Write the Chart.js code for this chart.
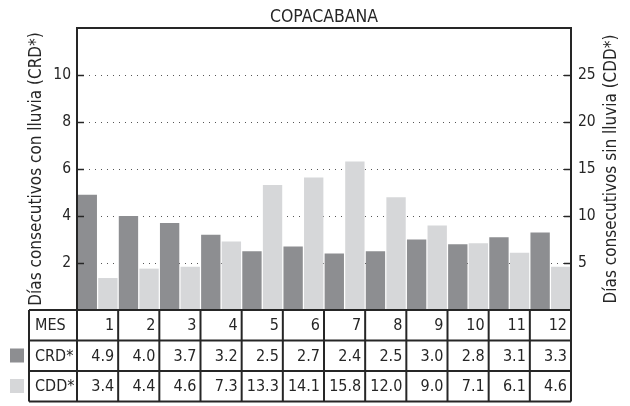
<!DOCTYPE html>
<html>
<head>
<meta charset="utf-8">
<script src="https://cdn.jsdelivr.net/npm/chart.js@4.4.1/dist/chart.umd.min.js"></script>
<style>
  body { margin: 0; background: #fff; }
  canvas { display: block; }
</style>
</head>
<body>
<canvas id="myChart" width="630" height="406"></canvas>
<script>
// data
const months = ['1', '2', '3', '4', '5', '6', '7', '8', '9', '10', '11', '12'];
const crd = [4.9, 4.0, 3.7, 3.2, 2.5, 2.7, 2.4, 2.5, 3.0, 2.8, 3.1, 3.3];
const cdd = [3.4, 4.4, 4.6, 7.3, 13.3, 14.1, 15.8, 12.0, 9.0, 7.1, 6.1, 4.6];
const rowLabels = ['MES', 'CRD*', 'CDD*'];

const darkGray = '#8d8e91';
const lightGray = '#d6d7d9';
const ink = '#262626';
const font = '"DejaVu Sans Condensed", "DejaVu Sans", sans-serif';

// frame, tick marks, right title and data table
const tablePlugin = {
    id: 'tablePlugin',
    afterDraw(chart) {
        const ctx = chart.ctx;
        const area = chart.chartArea;
        const x = chart.scales.x;
        const y = chart.scales.y;
        const y1 = chart.scales.y1;
        ctx.save();

        // frame around the plot
        ctx.strokeStyle = ink;
        ctx.lineWidth = 2;
        ctx.strokeRect(area.left, area.top, area.right - area.left, area.bottom - area.top);

        // small inward tick marks
        ctx.lineWidth = 1.5;
        [2, 4, 6, 8, 10].forEach(v => {
            const py = Math.round(y.getPixelForValue(v)) + 0.5;
            ctx.beginPath();
            ctx.moveTo(area.left, py);
            ctx.lineTo(area.left + 7, py);
            ctx.stroke();
        });
        [5, 10, 15, 20, 25].forEach(v => {
            const py = Math.round(y1.getPixelForValue(v)) + 0.5;
            ctx.beginPath();
            ctx.moveTo(area.right, py);
            ctx.lineTo(area.right - 7, py);
            ctx.stroke();
        });

        // right axis title, reading bottom to top
        ctx.fillStyle = ink;
        ctx.font = '17px ' + font;
        ctx.textAlign = 'center';
        ctx.textBaseline = 'middle';
        ctx.translate(612, (area.top + area.bottom) / 2);
        ctx.rotate(-Math.PI / 2);
        ctx.fillText('Días consecutivos sin lluvia (CDD*)', 0, 0);
        ctx.setTransform(1, 0, 0, 1, 0, 0);

        // table under the plot
        const half = (x.getPixelForValue(1) - x.getPixelForValue(0)) / 2;
        const top = area.bottom;
        const rowH = 30.5;
        const labelLeft = 29;
        const rows = [months, crd.map(v => v.toFixed(1)), cdd.map(v => v.toFixed(1))];

        ctx.strokeStyle = ink;
        ctx.lineWidth = 2;
        for (let r = 0; r <= 3; r++) {
            const py = top + r * rowH;
            ctx.beginPath();
            ctx.moveTo(labelLeft, py);
            ctx.lineTo(area.right, py);
            ctx.stroke();
        }
        const colEdges = [labelLeft, area.left];
        months.forEach((m, i) => colEdges.push(x.getPixelForValue(i) + half));
        colEdges.forEach(px => {
            ctx.beginPath();
            ctx.moveTo(px, top);
            ctx.lineTo(px, top + 3 * rowH);
            ctx.stroke();
        });

        ctx.fillStyle = ink;
        ctx.font = '16px ' + font;
        ctx.textBaseline = 'middle';
        rows.forEach((vals, r) => {
            const cy = top + r * rowH + rowH / 2 + 1;
            ctx.textAlign = 'left';
            ctx.fillText(rowLabels[r], labelLeft + 6, cy);
            ctx.textAlign = 'right';
            vals.forEach((v, i) => {
                ctx.fillText(v, x.getPixelForValue(i) + half - 4, cy);
            });
        });

        // legend swatches
        ctx.fillStyle = darkGray;
        ctx.fillRect(10, top + rowH + 8, 14, 14);
        ctx.fillStyle = lightGray;
        ctx.fillRect(10, top + 2 * rowH + 8, 14, 14);

        ctx.restore();
    }
};

new Chart(document.getElementById('myChart'), {
    type: 'bar',
    data: {
        labels: months,
        datasets: [{
            label: 'CRD*',
            data: crd,
            backgroundColor: darkGray,
            yAxisID: 'y',
        }, {
            label: 'CDD*',
            data: cdd,
            backgroundColor: lightGray,
            yAxisID: 'y1',
        }]
    },
    options: {
        responsive: false,
        animation: false,
        categoryPercentage: 1.0,
        barPercentage: 0.94,
        layout: { padding: { left: 0, right: 0, top: 0, bottom: 96 } },
        plugins: {
            legend: { display: false },
            tooltip: { enabled: false },
            title: {
                display: true,
                text: 'COPACABANA',
                fullSize: false,
                color: ink,
                font: { family: font, size: 17.5, weight: 'normal' },
                padding: { top: 7, bottom: 0 },
            },
        },
        scales: {
            x: { display: false },
            y: {
                position: 'left',
                min: 0,
                max: 12,
                afterFit: s => { s.width = 77; },
                ticks: {
                    stepSize: 2,
                    padding: 6,
                    color: ink,
                    font: { family: font, size: 15.5 },
                    callback: v => (v === 0 || v === 12) ? '' : v,
                },
                grid: {
                    drawTicks: false,
                    color: c => (c.tick.value === 0 || c.tick.value === 12) ? 'rgba(0,0,0,0)' : '#555',
                    lineWidth: 1,
                },
                border: { display: false, dash: [1, 5] },
                title: {
                    display: true,
                    text: 'Días consecutivos con lluvia (CRD*)',
                    color: ink,
                    font: { family: font, size: 17 },
                    padding: { top: 26, bottom: 0 },
                },
            },
            y1: {
                position: 'right',
                min: 0,
                max: 30,
                afterFit: s => { s.width = 59; },
                ticks: {
                    stepSize: 5,
                    padding: 7,
                    color: ink,
                    font: { family: font, size: 15.5 },
                    callback: v => (v === 0 || v === 30) ? '' : v,
                },
                grid: { drawOnChartArea: false, drawTicks: false },
                border: { display: false },
            },
        },
    },
    plugins: [tablePlugin],
});
</script>
</body>
</html>
